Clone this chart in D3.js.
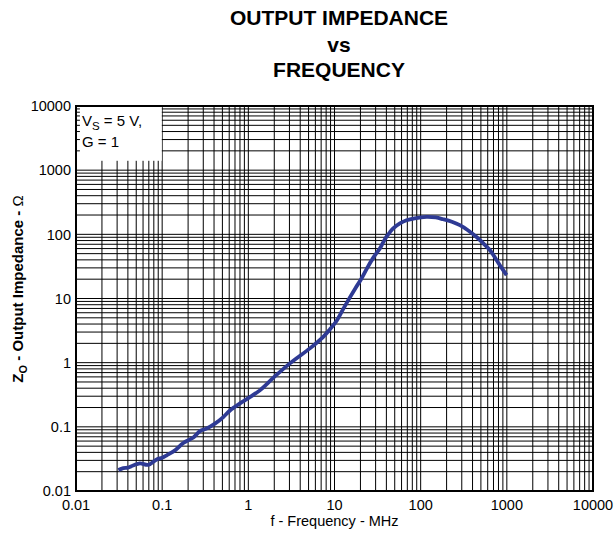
<!DOCTYPE html>
<html>
<head>
<meta charset="utf-8">
<script src="https://cdn.jsdelivr.net/npm/d3@7"></script>
<style>
  html, body { margin: 0; padding: 0; background: #fff; }
  svg { display: block; font-family: "Liberation Sans", Arial, sans-serif; }
</style>
</head>
<body>
<svg id="chart" width="616" height="535"></svg>
<script>
// Output impedance vs frequency (VS = 5 V, G = 1)
const freqMHz = [0.031, 0.0354, 0.04, 0.046, 0.0552, 0.069, 0.0863, 0.1, 0.113, 0.141,
  0.176, 0.23, 0.275, 0.328, 0.41, 0.512, 0.612, 0.8, 1.0, 1.36, 2.0, 3.04, 5.18, 7.4,
  8.85, 10.6, 12.5, 15.1, 17.5, 20.6, 24, 28.1, 33.6, 36.7, 40.2, 44, 48, 57.4, 68.6, 85, 117,
  150, 182, 230, 285, 350, 445, 530, 635, 830, 993];
const impedanceOhm = [0.0212, 0.0228, 0.0232, 0.025, 0.027, 0.0255, 0.031, 0.033, 0.036, 0.043,
  0.056, 0.068, 0.086, 0.094, 0.112, 0.142, 0.18, 0.232, 0.28, 0.37, 0.6, 0.975, 1.67, 2.53,
  3.3, 4.5, 6.7, 10.4, 14.5, 20.5, 30, 43, 60, 75, 92, 108, 124, 148, 166, 178, 187,
  183, 172, 157, 139, 117, 91, 73, 57, 33, 23.1];

const xTickValues = [0.01, 0.1, 1, 10, 100, 1000, 10000];
const xTickLabels = ["0.01", "0.1", "1", "10", "100", "1000", "10000"];
const yTickValues = [0.01, 0.1, 1, 10, 100, 1000, 10000];
const yTickLabels = ["0.01", "0.1", "1", "10", "100", "1000", "10000"];

const titleLines = ["OUTPUT IMPEDANCE", "vs", "FREQUENCY"];

const svg = d3.select("#chart");
const L = 76, R = 593, T = 106, B = 491;

const x = d3.scaleLog().domain([0.01, 10000]).range([L, R]);
const y = d3.scaleLog().domain([0.01, 10000]).range([B, T]);

// minor + major grid (all 1..9 multiples per decade)
const xGrid = x.ticks();
const yGrid = y.ticks();

const grid = svg.append("g");
grid.selectAll("line.v").data(xGrid).join("line")
  .attr("x1", d => x(d)).attr("x2", d => x(d))
  .attr("y1", T).attr("y2", B)
  .attr("stroke", "#000").attr("stroke-width", 1);
grid.selectAll("line.h").data(yGrid).join("line")
  .attr("x1", L).attr("x2", R)
  .attr("y1", d => y(d)).attr("y2", d => y(d))
  .attr("stroke", "#000").attr("stroke-width", 1);

// condition box in the upper-left corner
svg.append("rect")
  .attr("x", x(0.0111)).attr("y", y(10000) + 1)
  .attr("width", x(0.099) - x(0.0111))
  .attr("height", y(1400) - y(10000) - 1)
  .attr("fill", "#fff");

const cond = svg.append("text").attr("x", 82).attr("y", 126)
  .attr("font-size", 15).attr("fill", "#000");
cond.append("tspan").text("V");
cond.append("tspan").attr("font-size", 11.5).attr("dy", 4).text("S");
cond.append("tspan").attr("dy", -4).text(" = 5 V,");
svg.append("text").attr("x", 82).attr("y", 147)
  .attr("font-size", 15).attr("fill", "#000").text("G = 1");

// curve
const line = d3.line()
  .x(d => x(d[0])).y(d => y(d[1]))
  .curve(d3.curveCatmullRom.alpha(0.5));
svg.append("path")
  .datum(freqMHz.map((f, i) => [f, impedanceOhm[i]]))
  .attr("d", line)
  .attr("fill", "none")
  .attr("stroke", "#2E3A94")
  .attr("stroke-width", 3.8)
  .attr("stroke-linejoin", "round")
  .attr("stroke-linecap", "butt");

// frame
svg.append("rect")
  .attr("x", L).attr("y", T).attr("width", R - L).attr("height", B - T)
  .attr("fill", "none").attr("stroke", "#000").attr("stroke-width", 2);

// tick labels
svg.append("g").selectAll("text").data(xTickValues).join("text")
  .attr("x", d => x(d)).attr("y", 510)
  .attr("text-anchor", "middle").attr("font-size", 14.5)
  .text((d, i) => xTickLabels[i]);
svg.append("g").selectAll("text").data(yTickValues).join("text")
  .attr("x", 71).attr("y", d => y(d)).attr("dy", "0.36em")
  .attr("text-anchor", "end").attr("font-size", 14.5)
  .text((d, i) => yTickLabels[i]);

// axis titles
svg.append("text").attr("x", (L + R) / 2).attr("y", 526)
  .attr("text-anchor", "middle").attr("font-size", 14.5)
  .text("f - Frequency - MHz");

const yt = svg.append("text")
  .attr("transform", "translate(23,289) rotate(-90)")
  .attr("text-anchor", "middle").attr("font-size", 15).attr("font-weight", "bold");
yt.append("tspan").text("Z");
yt.append("tspan").attr("font-size", 11).attr("dy", 4).text("O");
yt.append("tspan").attr("dy", -4).text(" - Output Impedance - ");
yt.append("tspan").attr("font-weight", "normal").text("Ω");

// title
svg.append("g").selectAll("text").data(titleLines).join("text")
  .attr("x", 339).attr("y", (d, i) => [25, 52, 77][i])
  .attr("text-anchor", "middle").attr("font-size", 21).attr("font-weight", "bold")
  .text(d => d);
</script>
</body>
</html>
